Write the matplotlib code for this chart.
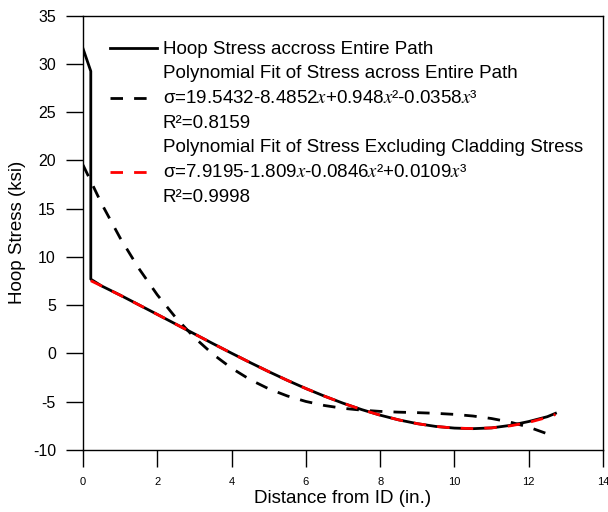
import matplotlib.pyplot as plt

plt.rcParams['font.family'] = ['Liberation Sans', 'DejaVu Sans']
plt.rcParams['mathtext.fontset'] = 'stix'
plt.rcParams['axes.unicode_minus'] = False

# measured hoop stress along the path
dist = [0, 0.21, 0.21, 0.5, 1, 1.5, 2, 2.5, 3, 3.5, 4, 4.5, 5, 5.5, 6, 6.5, 7,
        7.5, 8, 8.5, 9, 9.5, 10, 10.5, 11, 11.5, 12, 12.5, 12.72]
hoop = [31.6, 29.25, 7.7, 7.0, 6.05, 5.05, 4.05, 3.04, 2.03, 1.02, 0.03, -0.94,
        -1.88, -2.78, -3.63, -4.42, -5.15, -5.81, -6.39, -6.88, -7.27, -7.56,
        -7.73, -7.79, -7.71, -7.45, -7.05, -6.55, -6.2]

# fit across entire path
fit_all_x = [0, 0.5, 1, 1.5, 2, 2.5, 3, 3.5, 4, 4.5, 5, 5.5, 6, 6.5, 7, 7.5, 8,
             8.5, 9, 9.5, 10, 10.5, 11, 11.5, 12, 12.5, 12.72]
fit_all_y = [19.54, 15.53, 11.97, 8.83, 6.08, 3.70, 1.65, -0.08, -1.52, -2.71,
             -3.66, -4.40, -4.97, -5.39, -5.68, -5.87, -6.0, -6.08, -6.13, -6.20,
             -6.31, -6.48, -6.74, -7.11, -7.63, -8.32, -8.68]

# fit excluding cladding
fit_ex_x = [0.21, 0.5, 1, 1.5, 2, 2.5, 3, 3.5, 4, 4.5, 5, 5.5, 6, 6.5, 7, 7.5, 8,
            8.5, 9, 9.5, 10, 10.5, 11, 11.5, 12, 12.5, 12.72]
fit_ex_y = [7.54, 7.0, 6.04, 5.05, 4.05, 3.04, 2.03, 1.02, 0.03, -0.94, -1.88,
            -2.78, -3.63, -4.42, -5.15, -5.81, -6.39, -6.88, -7.27, -7.56, -7.73,
            -7.78, -7.71, -7.50, -7.14, -6.62, -6.32]

labels = [
    "Hoop Stress accross Entire Path",
    "Polynomial Fit of Stress across Entire Path\n"
    "σ=19.5432-8.4852$x$+0.948$x$²-0.0358$x$³\nR²=0.8159",
    "Polynomial Fit of Stress Excluding Cladding Stress\n"
    "σ=7.9195-1.809$x$-0.0846$x$²+0.0109$x$³\nR²=0.9998",
]

fig = plt.figure(figsize=(6.08, 5.12), dpi=100)
ax = fig.add_axes([0.1365, 0.1211, 0.8553, 0.8482])

ax.plot(dist, hoop, color='black', lw=2, label=labels[0])
ax.plot(fit_all_x, fit_all_y, color='black', lw=2, linestyle=(0, (4.5, 4)), label=labels[1])
ax.plot(fit_ex_x, fit_ex_y, color='red', lw=2, linestyle=(0, (4.5, 4)), label=labels[2])

ax.set_xlim(0, 14)
ax.set_ylim(-10, 35)
ax.set_xticks(range(0, 15, 2))
ax.set_yticks(range(-10, 36, 5))
ax.tick_params(axis='both', direction='out', length=12.5, width=1, pad=7)
ax.tick_params(axis='x', labelsize=8)
ax.tick_params(axis='y', labelsize=11.5)
for s in ax.spines.values():
    s.set_linewidth(1)

ax.set_xlabel("Distance from ID (in.)", fontsize=13.5, labelpad=2)
ax.set_ylabel("Hoop Stress (ksi)", fontsize=13.5, labelpad=5)

leg = ax.legend(loc='upper left', bbox_to_anchor=(0.02, 0.98), frameon=False, fontsize=13.5,
                handlelength=2.5, handletextpad=0.3, labelspacing=0.35)
for t in leg.get_texts():
    t.set_linespacing(1.62)

fig.savefig("out.png", dpi=100)
